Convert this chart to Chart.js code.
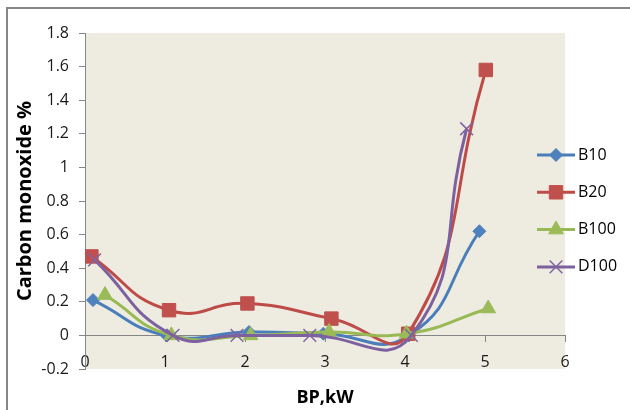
<!DOCTYPE html>
<html>
<head>
<meta charset="utf-8">
<script src="https://cdn.jsdelivr.net/npm/chart.js@4"></script>
<style>
  html, body { margin: 0; padding: 0; background: #fff; }
  canvas { display: block; }
</style>
</head>
<body>
<canvas id="co-chart" width="630" height="410"></canvas>
<script>
/* Carbon monoxide vs brake power */
const seriesNames = ['B10', 'B20', 'B100', 'D100'];

const b10_x = [0.1, 1.02, 2.05, 2.98, 4.05, 4.93];
const b10_y = [0.21, 0.0, 0.02, 0.01, 0.0, 0.62];

const b20_x = [0.08, 1.05, 2.03, 3.08, 4.04, 5.01];
const b20_y = [0.47, 0.15, 0.19, 0.10, 0.01, 1.58];

const b100_x = [0.25, 1.08, 2.07, 3.05, 4.02, 5.04];
const b100_y = [0.24, 0.0, 0.0, 0.02, 0.01, 0.16];

const d100_x = [0.12, 1.1, 1.9, 2.81, 4.08, 4.77];
const d100_y = [0.45, 0.0, 0.0, 0.0, 0.0, 1.23];

const xTicks = [0, 1, 2, 3, 4, 5, 6];
const yTicks = [-0.2, 0, 0.2, 0.4, 0.6, 0.8, 1, 1.2, 1.4, 1.6, 1.8];

function toPoints(xs, ys) {
    const pts = [];
    for (let i = 0; i < xs.length; i++) {
        pts.push({x: xs[i], y: ys[i]});
    }
    return pts;
}

Chart.defaults.font.family = "'Open Sans', sans-serif";
Chart.defaults.font.size = 16;
Chart.defaults.color = '#1a1a1a';

const axisGrey = '#868686';

// beige plot area + the outer frame of the excel chart
const backdrop = {
    id: 'backdrop',
    beforeDraw(chart) {
        const c = chart.ctx;
        const a = chart.chartArea;
        c.save();
        c.fillStyle = '#ffffff';
        c.fillRect(0, 0, chart.width, chart.height);
        c.fillStyle = '#EEECE1';
        c.fillRect(a.left, a.top, a.right - a.left, a.bottom - a.top);
        c.strokeStyle = axisGrey;
        c.lineWidth = 2;
        c.beginPath();
        c.moveTo(7, chart.height + 5);
        c.lineTo(7, 8);
        c.lineTo(chart.width + 5, 8);
        c.stroke();
        c.restore();
    }
};

// legend sits over the right edge of the plot like in the excel sheet
const sideLegend = {
    id: 'sideLegend',
    afterDraw(chart) {
        const c = chart.ctx;
        c.save();
        chart.data.datasets.forEach(function(ds, i) {
            const y = 155 + i * 37.3;
            c.strokeStyle = ds.borderColor;
            c.lineWidth = 3;
            c.beginPath();
            c.moveTo(537, y);
            c.lineTo(575, y);
            c.stroke();
            c.fillStyle = ds.pointBackgroundColor;
            c.strokeStyle = ds.pointBorderColor;
            c.lineWidth = ds.pointBorderWidth;
            Chart.helpers.drawPoint(c, {
                pointStyle: ds.pointStyle,
                radius: ds.pointRadius,
                rotation: 0,
                borderWidth: ds.pointBorderWidth
            }, 556, y);
            c.fillStyle = '#000';
            c.font = "16px 'Open Sans', sans-serif";
            c.textAlign = 'left';
            c.textBaseline = 'middle';
            c.fillText(ds.label, 578, y);
        });
        c.restore();
    }
};

// excel style numbers: 1 not 1.0, 0 not 0.0
function plainNum(v) {
    return String(parseFloat(Number(v).toFixed(1)));
}

const ctx_co = document.getElementById('co-chart').getContext('2d');
const coChart = new Chart(ctx_co, {
    type: 'scatter',
    data: {
        datasets: [{
            label: seriesNames[0],
            data: toPoints(b10_x, b10_y),
            showLine: true,
            borderColor: '#4A7EBB',
            borderWidth: 3,
            pointStyle: 'rectRot',
            pointRadius: 6.5,
            pointBackgroundColor: '#4F81BD',
            pointBorderColor: '#4F81BD',
            pointBorderWidth: 1,
            order: 3
        }, {
            label: seriesNames[1],
            data: toPoints(b20_x, b20_y),
            showLine: true,
            borderColor: '#BE4B48',
            borderWidth: 3,
            pointStyle: 'rect',
            pointRadius: 9.5,
            pointBackgroundColor: '#C0504D',
            pointBorderColor: '#C0504D',
            pointBorderWidth: 1,
            order: 2
        }, {
            label: seriesNames[2],
            data: toPoints(b100_x, b100_y),
            showLine: true,
            borderColor: '#98B954',
            borderWidth: 3,
            pointStyle: 'triangle',
            pointRadius: 8.5,
            pointBackgroundColor: '#9BBB59',
            pointBorderColor: '#9BBB59',
            pointBorderWidth: 1,
            order: 1
        }, {
            label: seriesNames[3],
            data: toPoints(d100_x, d100_y),
            showLine: true,
            borderColor: '#7D60A0',
            borderWidth: 3,
            pointStyle: 'crossRot',
            pointRadius: 9,
            pointBackgroundColor: '#8064A2',
            pointBorderColor: '#8064A2',
            pointBorderWidth: 1.5,
            order: 0
        }]
    },
    options: {
        responsive: false,
        animation: false,
        devicePixelRatio: 1,
        tension: 0.5,
        layout: {
            padding: {left: 0, top: 33, right: 65, bottom: 41}
        },
        plugins: {
            legend: {display: false},
            tooltip: {enabled: false}
        },
        scales: {
            x: {
                type: 'linear',
                position: {y: 0},
                min: xTicks[0],
                max: xTicks[xTicks.length - 1],
                afterBuildTicks(axis) {
                    axis.ticks = xTicks.map(v => ({value: v}));
                },
                afterFit(axis) {
                    axis.height = 72.8;
                },
                ticks: {padding: 11, font: {size: 16}, callback: plainNum},
                grid: {drawOnChartArea: false, drawTicks: true, tickLength: 6, color: axisGrey},
                border: {color: axisGrey, width: 1},
                title: {
                    display: true,
                    text: 'BP,kW',
                    color: '#000',
                    font: {size: 18, weight: 'bold'},
                    padding: {top: 0, bottom: 0}
                }
            },
            y: {
                type: 'linear',
                position: 'left',
                min: yTicks[0],
                max: yTicks[yTicks.length - 1],
                afterBuildTicks(axis) {
                    axis.ticks = yTicks.map(v => ({value: v}));
                },
                afterFit(axis) {
                    axis.width = 85;
                },
                ticks: {padding: 10, font: {size: 16}, callback: plainNum},
                grid: {drawOnChartArea: false, drawTicks: true, tickLength: 6, color: axisGrey},
                border: {color: axisGrey, width: 1},
                title: {
                    display: true,
                    text: 'Carbon monoxide %',
                    color: '#000',
                    font: {size: 20, weight: 'bold'},
                    padding: {top: 13, bottom: 0}
                }
            }
        }
    },
    plugins: [backdrop, sideLegend]
});
</script>
</body>
</html>
